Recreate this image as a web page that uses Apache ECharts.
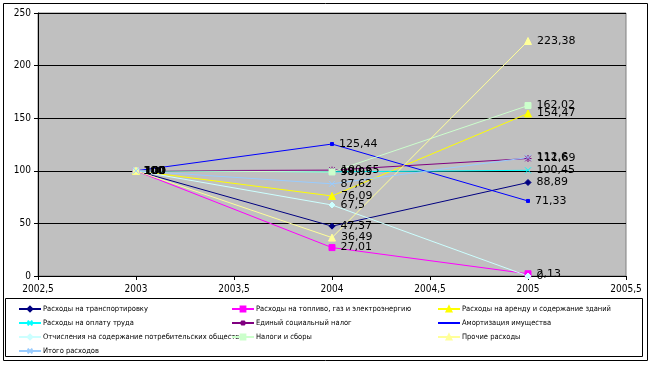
<!DOCTYPE html>
<html><head><meta charset="utf-8">
<script src="https://cdn.jsdelivr.net/npm/echarts@6/dist/echarts.min.js"></script>
<style>html,body{margin:0;padding:0;background:#fff}#c{width:651px;height:365px}</style>
</head><body><div id="c"></div>
<script>
const years = [2003, 2004, 2005];
const names = [
  'Расходы на транспортировку',
  'Расходы на топливо, газ и электроэнергию',
  'Расходы на аренду и содержание зданий',
  'Расходы на оплату труда',
  'Единый социальный налог',
  'Амортизация имущества',
  'Отчисления на содержание потребительских обществ',
  'Налоги и сборы',
  'Прочие расходы',
  'Итого расходов'
];
const transport = [100, 47.37, 88.89];
const fuel = [100, 27.01, 2.13];
const rent = [100, 76.09, 154.47];
const salary = [100, 99.03, 100.45];
const socialTax = [100, 100.65, 111.69];
const amortization = [100, 125.44, 71.33];
const deductions = [100, 67.5, 0];
const taxes = [100, 98.93, 162.02];
const other = [100, 36.49, 223.38];
const total = [100, 87.62, 112.6];
const values = [transport, fuel, rent, salary, socialTax, amortization, deductions, taxes, other, total];
const yTicks = [0, 50, 100, 150, 200, 250];

const colors = ['#000080', '#FF00FF', '#FFFF00', '#00FFFF', '#800080', '#0000FF', '#CCFFFF', '#CCFFCC', '#FFFF99', '#99CCFF'];
const xSym = 'path://M0,0L10,10M10,0L0,10';
const starSym = 'path://M5,0L5,10M0,5L10,5M1,1L9,9M9,1L1,9';
const symbols = ['diamond', 'rect', 'triangle', xSym, starSym, 'rect', 'diamond', 'rect', 'triangle', xSym];
const sizes = [6, 6, 7, 6, 7, 3, 6, 6, 7, 6];

const fmt = v => String(v).replace('.', ',');

const series = names.map((n, i) => ({
  name: n,
  type: 'line',
  data: years.map((y, j) => [y, values[i][j]]),
  symbol: symbols[i],
  symbolSize: sizes[i],
  lineStyle: {color: colors[i], width: 1},
  itemStyle: {color: colors[i], borderColor: colors[i], borderWidth: 1},
  label: {show: true, position: 'right', distance: 5, color: '#000', fontFamily: 'DejaVu Sans', fontSize: 11,
    formatter: p => fmt(p.value[1])},
  emphasis: {disabled: true},
  animation: false
}));

const legendItem = i => (i === 5 ? {name: names[i], itemStyle: {opacity: 0}} : {name: names[i]});

const legendCommon = {
  orient: 'vertical', itemWidth: 22, itemHeight: 6, itemGap: 6,
  textStyle: {fontFamily: 'DejaVu Sans Condensed', fontSize: 7.5, lineHeight: 8, color: '#000', padding: [0,0,0,-3]},
  selectedMode: false, padding: 0
};

const chart = echarts.init(document.getElementById('c'));
chart.setOption({
  backgroundColor: '#fff',
  animation: false,
  graphic: [
    {type: 'rect', shape: {x: 3.5, y: 3.5, width: 644, height: 357}, style: {fill: null, stroke: '#000', lineWidth: 1}, z: -10},
    {type: 'rect', shape: {x: 5.5, y: 298.5, width: 637, height: 58}, style: {fill: null, stroke: '#000', lineWidth: 1}, z: -10}
  ],
  legend: [
    Object.assign({left: 18, top: 305, data: [0, 3, 6, 9].map(legendItem)}, legendCommon),
    Object.assign({left: 231, top: 305, data: [1, 4, 7].map(legendItem)}, legendCommon),
    Object.assign({left: 437, top: 305, data: [2, 5, 8].map(legendItem)}, legendCommon)
  ],
  grid: {left: 38, right: 25, top: 13, bottom: 89, show: true, backgroundColor: '#C0C0C0', borderColor: '#808080', borderWidth: 1},
  xAxis: {
    type: 'value', min: 2002.5, max: 2005.5, interval: 0.5,
    axisLine: {show: true, lineStyle: {color: '#000'}, onZero: false},
    axisTick: {show: true, length: 4, lineStyle: {color: '#000'}},
    splitLine: {show: false},
    axisLabel: {color: '#000', fontFamily: 'DejaVu Sans Condensed', fontSize: 10, margin: 8, formatter: v => fmt(v)}
  },
  yAxis: {
    type: 'value', min: yTicks[0], max: yTicks[yTicks.length - 1], interval: 50,
    axisLine: {show: true, lineStyle: {color: '#000'}},
    axisTick: {show: true, length: 4, lineStyle: {color: '#000'}},
    splitLine: {show: true, lineStyle: {color: '#000', width: 1}},
    axisLabel: {color: '#000', fontFamily: 'DejaVu Sans Condensed', fontSize: 10, margin: 7}
  },
  series: series
});
</script></body></html>
